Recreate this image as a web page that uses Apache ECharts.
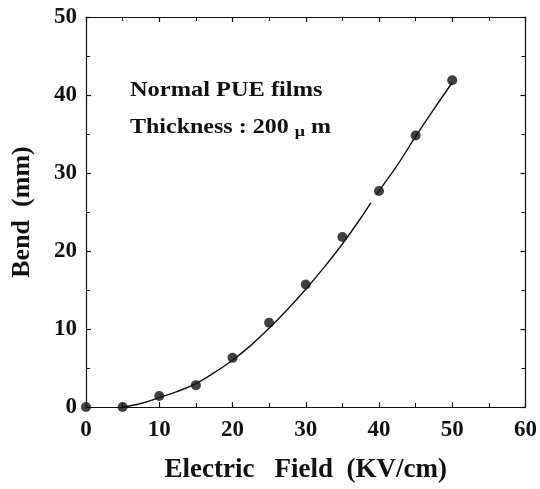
<!DOCTYPE html>
<html>
<head>
<meta charset="utf-8">
<script src="https://cdn.jsdelivr.net/npm/echarts@6/dist/echarts.min.js"></script>
<style>
  html, body { margin: 0; padding: 0; background: #fff; }
  #chart { width: 540px; height: 489px; }
</style>
</head>
<body>
<div id="chart"></div>
<script>
// measured points
const fieldKV = [0, 5, 10, 15, 20, 25, 30, 35, 40, 45, 50]
const bendMM  = [0, 0, 1.4, 2.8, 6.3, 10.8, 15.7, 21.8, 27.7, 34.8, 41.9]

// fitted curve as drawn, broken near 39 kV/cm
const fitLowX = [5, 7.5, 10, 12.5, 15, 17.5, 20, 22.5, 25, 27.5, 30, 32.5, 35, 37.5, 38.9]
const fitLowY = [0, 0.45, 1.2, 2.0, 3.0, 4.4, 6.0, 7.9, 10.1, 12.5, 15.1, 17.9, 20.9, 24.2, 26.2]
const fitHighX = [39.6, 42.5, 45, 47.5, 50]
const fitHighY = [27.2, 31.0, 34.7, 38.2, 41.6]

const xTicks = [0, 10, 20, 30, 40, 50, 60]
const yTicks = [0, 10, 20, 30, 40, 50]

const INK = '#111'
const FONT = '"Liberation Serif", "DejaVu Serif", serif'

const pairs = (xs, ys) => xs.map((x, i) => [x, ys[i]])

// 四边都有朝内的刻度
const tickStyle = {
  axisLine: { show: true, onZero: false, lineStyle: { color: INK, width: 1.2 } },
  axisTick: { show: true, inside: true, length: 5, lineStyle: { color: INK, width: 1.2 } },
  minorTick: { show: true, splitNumber: 2, length: 4, lineStyle: { color: INK, width: 1 } },
  splitLine: { show: false },
  minorSplitLine: { show: false },
}

const labelStyle = {
  color: INK,
  fontFamily: FONT,
  fontWeight: 'bold',
  fontSize: 23,
}

const option = {
  animation: false,
  backgroundColor: '#fff',
  grid: { left: 86, right: 14, top: 17, bottom: 81 },
  xAxis: [
    {
      type: 'value',
      min: xTicks[0],
      max: xTicks[xTicks.length - 1],
      interval: 10,
      ...tickStyle,
      axisLabel: { ...labelStyle, margin: 12 },
      name: 'Electric   Field  (KV/cm)',
      nameLocation: 'middle',
      nameGap: 50,
      nameTextStyle: { ...labelStyle, fontSize: 27 },
    },
    {
      type: 'value',
      position: 'top',
      min: xTicks[0],
      max: xTicks[xTicks.length - 1],
      interval: 10,
      ...tickStyle,
      axisLabel: { show: false },
    },
  ],
  yAxis: [
    {
      type: 'value',
      min: yTicks[0],
      max: yTicks[yTicks.length - 1],
      interval: 10,
      ...tickStyle,
      axisLabel: { ...labelStyle, margin: 9 },
      name: 'Bend  (mm)',
      nameLocation: 'middle',
      nameGap: 51,
      nameTextStyle: { ...labelStyle, fontSize: 26 },
    },
    {
      type: 'value',
      position: 'right',
      min: yTicks[0],
      max: yTicks[yTicks.length - 1],
      interval: 10,
      ...tickStyle,
      axisLabel: { show: false },
    },
  ],
  graphic: [
    {
      type: 'text',
      x: 130,
      y: 91,
      scaleX: 1.22,
      style: {
        text: 'Normal PUE films',
        font: 'bold 20px ' + FONT,
        fill: INK,
        verticalAlign: 'middle',
        align: 'left',
      },
    },
    {
      type: 'text',
      x: 130,
      y: 128,
      scaleX: 1.2,
      style: {
        text: '{a|Thickness : 200 }{mu|μ}{a| m}',
        fill: INK,
        verticalAlign: 'middle',
        align: 'left',
        rich: {
          a: { font: 'bold 20px ' + FONT, fill: INK },
          mu: { font: 'bold 15px ' + FONT, fill: INK, padding: [8, 0, 0, 0] },
        },
      },
    },
  ],
  series: [
    {
      name: 'fit',
      type: 'line',
      data: pairs(fitLowX, fitLowY),
      smooth: 0.4,
      showSymbol: false,
      lineStyle: { color: INK, width: 1.4 },
    },
    {
      name: 'fit2',
      type: 'line',
      data: pairs(fitHighX, fitHighY),
      smooth: 0.4,
      showSymbol: false,
      lineStyle: { color: INK, width: 1.4 },
    },
    {
      name: 'measured',
      type: 'scatter',
      data: pairs(fieldKV, bendMM),
      symbol: 'circle',
      symbolSize: 10,
      clip: false,
      itemStyle: { color: INK },
      z: 5,
    },
  ],
}

const chart = echarts.init(document.getElementById('chart'), null, { renderer: 'canvas' })
chart.setOption(option)
</script>
</body>
</html>
